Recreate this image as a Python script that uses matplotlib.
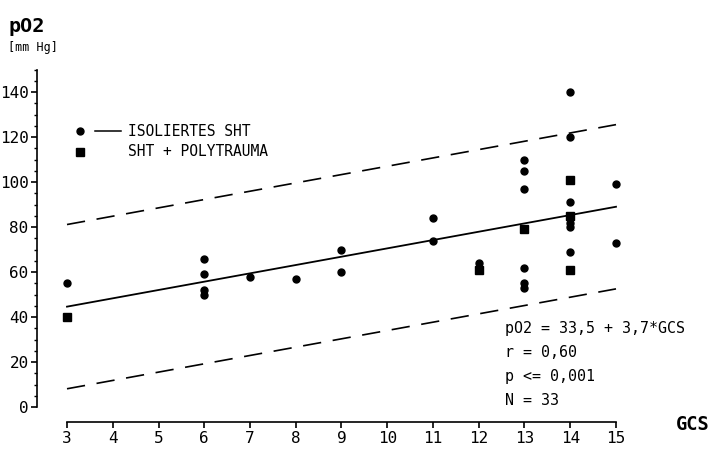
import matplotlib
matplotlib.use("Agg")
import matplotlib.pyplot as plt
import numpy as np

plt.rcParams['font.family'] = ['DejaVu Sans Mono', 'DejaVu Sans']

# ---- data ----
sht_gcs = [3, 6, 6, 6, 6, 7, 8, 9, 9, 11, 11, 12,
           13, 13, 13, 13, 13, 13,
           14, 14, 14, 14, 14, 14, 14, 15, 15]
sht_po2 = [55, 66, 59, 52, 50, 58, 57, 70, 60, 84, 74, 64,
           110, 105, 97, 62, 55, 53,
           140, 120, 91, 84, 82, 80, 69, 99, 73]
poly_gcs = [3, 12, 13, 14, 14, 14]
poly_po2 = [40, 61, 79, 101, 85, 61]

intercept = 33.5
slope = 3.7
band = 36.5
gcs_range = [3, 15]

x_ticks = list(range(3, 16))
y_ticks = [0, 20, 40, 60, 80, 100, 120, 140]
y_tick_labels = ['0', '20', '40', '60', '80', '100', '120', '140']
stats_lines = ['pO2 = 33,5 + 3,7*GCS', 'r = 0,60', 'p <= 0,001', 'N = 33']

# ---- figure ----
W, H = 715, 449
fig = plt.figure(figsize=(W / 100, H / 100), dpi=100)
ax = fig.add_axes([0, 0, 1, 1])
ax.patch.set_alpha(0)

# pixel mapping: GCS 3 -> px 67, 45.75 px per unit; pO2 0 -> py 407, 2.25 px per unit
x0px, xs = 67.0, 45.75
y0px, ys = 407.0, 2.25
ax.set_xlim(3 - x0px / xs, 3 + (W - x0px) / xs)
ax.set_ylim(-(H - y0px) / ys, y0px / ys)

def px2data(px, py):
    return 3 + (px - x0px) / xs, (y0px - py) / ys

lw = 1.2
for s in ['top', 'right']:
    ax.spines[s].set_visible(False)
ax.spines['left'].set_position(('data', px2data(37, 0)[0]))
ax.spines['left'].set_bounds(0, 150)
ax.spines['bottom'].set_position(('data', px2data(0, 422)[1]))
ax.spines['bottom'].set_bounds(3, 15)
ax.spines['left'].set_linewidth(lw)
ax.spines['bottom'].set_linewidth(lw)

ax.set_xticks(x_ticks)
ax.set_xticklabels([str(t) for t in x_ticks])
ax.set_yticks(y_ticks)
ax.set_yticklabels(y_tick_labels)
ax.set_yticks(np.arange(0, 151, 5), minor=True)
ax.tick_params(axis='x', direction='out', length=4.5, width=lw, pad=2, labelsize=11.5)
ax.tick_params(axis='y', direction='out', length=4.5, width=lw, pad=1.5, labelsize=11.5)
ax.tick_params(axis='y', which='minor', direction='out', length=2.2, width=1.0)
ax.tick_params(axis='x', which='minor', length=0)

# regression and bands
xr = np.array(gcs_range, dtype=float)
yr = intercept + slope * xr
ax.plot(xr, yr, color='black', lw=1.3)
ax.plot(xr, yr + band, color='black', lw=1.2, dashes=(11, 7))
ax.plot(xr, yr - band, color='black', lw=1.2, dashes=(11, 7))

# points
ax.plot(sht_gcs, sht_po2, 'o', color='black', ms=5, mec='black', ls='none', clip_on=False)
ax.plot(poly_gcs, poly_po2, 's', color='black', ms=6, mec='black', ls='none', clip_on=False)

# legend (manual)
lx, ly = px2data(80, 131)
ax.plot([lx], [ly], 'o', color='black', ms=5)
l1, _ = px2data(95, 131)
l2, _ = px2data(121, 131)
ax.plot([l1, l2], [ly, ly], color='black', lw=1.1)
tx, _ = px2data(128, 131)
ax.text(tx, ly, 'ISOLIERTES SHT', fontsize=10.5, va='center', ha='left')
sx, sy = px2data(80, 152)
ax.plot([sx], [sy], 's', color='black', ms=6)
ax.text(tx, sy, 'SHT + POLYTRAUMA', fontsize=10.5, va='center', ha='left')

# stats text
for i, s in enumerate(stats_lines):
    px, py = px2data(505, 328 + i * 24.3)
    ax.text(px, py, s, fontsize=10.8, va='center', ha='left')

# axis labels
fig.text(8 / W, 1 - 26 / H, 'pO2', fontsize=14.5, va='center', ha='left', fontweight='bold')
fig.text(8 / W, 1 - 47 / H, '[mm Hg]', fontsize=8.5, va='center', ha='left')
fig.text(676 / W, 1 - 424 / H, 'GCS', fontsize=13.5, va='center', ha='left', fontweight='bold')

fig.savefig('out.png', dpi=100, facecolor='white')
